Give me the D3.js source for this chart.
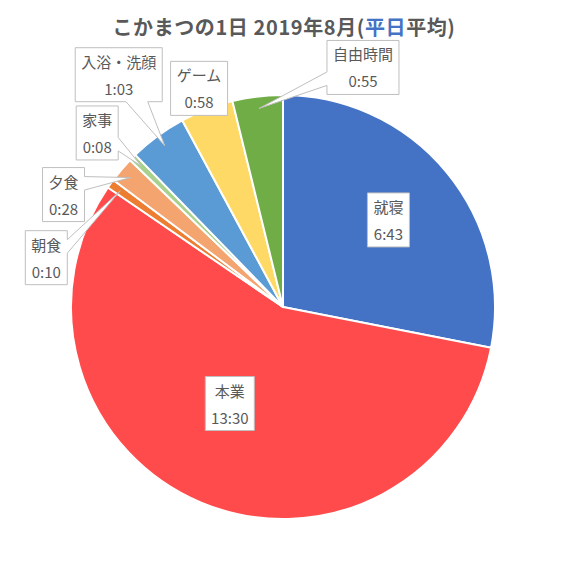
<!DOCTYPE html>
<html>
<head>
  <meta charset="utf-8">
  <title>こかまつの1日</title>
  <script src="https://d3js.org/d3.v7.min.js"></script>
</head>
<body style="margin:0px; overflow:hidden; background:#fff;">
  <svg id="chart" width="567" height="567"></svg>
  <script>
    // Data
    const categories = ["就寝", "本業", "朝食", "夕食", "家事", "入浴・洗顔", "ゲーム", "自由時間"];
    const durations = ["6:43", "13:30", "0:10", "0:28", "0:08", "1:03", "0:58", "0:55"];
    const colors = ["#4472C4", "#FF4B4B", "#ED7D31", "#F4A46F", "#A9D18E", "#5B9BD5", "#FFD966", "#70AD47"];

    // Label layout (box centre offset from the slice pointer)
    const labelOffsets = [[-49, 40], [24, -88], [-74, 67], [-67, 17], [-44, -33], [-46, -71], [-12, -32], [104, -41]];
    const showLeader = [false, false, true, true, true, true, false, true];

    const minutes = durations.map(s => {
      const [h, m] = s.split(":").map(Number);
      return h * 60 + m;
    });
    const data = categories.map((c, i) => ({ name: c, label: durations[i], value: minutes[i], color: colors[i] }));

    const cx = 283, cy = 307, radius = 212;
    const font = "'Noto Sans CJK JP', 'Noto Sans', sans-serif";
    const textColor = "#595959";

    const svg = d3.select("#chart");

    // Title
    const title = svg.append("text")
      .attr("x", 284).attr("y", 35)
      .attr("text-anchor", "middle")
      .style("font-family", font)
      .style("font-size", "20px")
      .style("letter-spacing", "0.6px")
      .style("font-weight", "bold")
      .style("fill", textColor);
    title.append("tspan").text("こかまつの1日  2019年8月(");
    title.append("tspan").text("平日").style("fill", "#4472C4");
    title.append("tspan").text("平均)");

    // Pie
    const pie = d3.pie().sort(null).value(d => d.value);
    const arcs = pie(data);
    const arc = d3.arc().innerRadius(0).outerRadius(radius);
    const pointerArc = d3.arc().innerRadius(200).outerRadius(200);

    const g = svg.append("g").attr("transform", "translate(" + cx + "," + cy + ")");

    g.selectAll("path.slice")
      .data(arcs).enter()
      .append("path")
      .attr("class", "slice")
      .attr("d", arc)
      .attr("fill", d => d.data.color)
      .attr("stroke", "#fff")
      .attr("stroke-width", 2)
      .attr("stroke-linejoin", "round");

    // Callout labels
    const lineGap = 27;
    arcs.forEach((d, i) => {
      const [px, py] = pointerArc.centroid(d);
      const bx = px + labelOffsets[i][0];
      const by = py + labelOffsets[i][1];

      const lg = g.append("g");
      const box = lg.append("path");
      const t1 = lg.append("text")
        .attr("x", bx).attr("y", by - lineGap / 2)
        .attr("text-anchor", "middle")
        .attr("dominant-baseline", "central")
        .style("font-family", font).style("font-size", "15px").style("fill", textColor)
        .text(d.data.name);
      const t2 = lg.append("text")
        .attr("x", bx).attr("y", by + lineGap / 2)
        .attr("text-anchor", "middle")
        .attr("dominant-baseline", "central")
        .style("font-family", font).style("font-size", "15px").style("fill", textColor)
        .text(d.data.label);

      const tw = Math.max(t1.node().getComputedTextLength(), t2.node().getComputedTextLength());
      const w = Math.round(tw + 12), h = 54;
      const x0 = bx - w / 2, y0 = by - h / 2, x1 = x0 + w, y1 = y0 + h;

      // wedgeRectCallout-like outline
      let pts = [[x0, y0], [x1, y0], [x1, y1], [x0, y1]];
      if (showLeader[i]) {
        const dxPos = px - bx, dyPos = py - by;
        const horizontal = Math.abs(dxPos * h) > Math.abs(dyPos * w);
        const ya = y0 + h * (dyPos > 0 ? 7 : 2) / 12, yb = y0 + h * (dyPos > 0 ? 10 : 5) / 12;
        const xa = x0 + w * (dxPos > 0 ? 7 : 2) / 12, xb = x0 + w * (dxPos > 0 ? 10 : 5) / 12;
        if (horizontal && dxPos > 0) {
          pts = [[x0, y0], [x1, y0], [x1, ya], [px, py], [x1, yb], [x1, y1], [x0, y1]];
        } else if (horizontal) {
          pts = [[x0, y0], [x1, y0], [x1, y1], [x0, y1], [x0, yb], [px, py], [x0, ya]];
        } else if (dyPos > 0) {
          pts = [[x0, y0], [x1, y0], [x1, y1], [xb, y1], [px, py], [xa, y1], [x0, y1]];
        } else {
          pts = [[x0, y0], [xa, y0], [px, py], [xb, y0], [x1, y0], [x1, y1], [x0, y1]];
        }
      }
      box.attr("d", d3.line()(pts) + "Z")
        .attr("fill", "#fff")
        .attr("stroke", "#BFBFBF")
        .attr("stroke-width", 1);
    });
  </script>
</body>
</html>
